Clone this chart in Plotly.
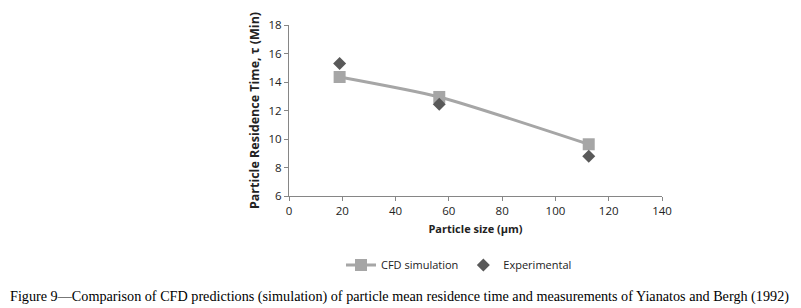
import plotly.graph_objects as go

particle_size = [19, 56.4, 112.5]
cfd_simulation = [14.35, 12.95, 9.63]
experimental = [15.29, 12.44, 8.79]

x_ticks = [0, 20, 40, 60, 80, 100, 120, 140]
y_ticks = [6, 8, 10, 12, 14, 16, 18]

font_fam = "Open Sans, Noto Sans, sans-serif"

W, H = 793, 300  # page body has an 8px margin
L, R, T, B = 281, 139, 17, 112
PH = H - T - B
PW = W - L - R

fig = go.Figure()
fig.add_trace(go.Scatter(
    x=particle_size, y=cfd_simulation, name="CFD simulation",
    mode="lines+markers",
    line=dict(color="#A6A6A6", width=3, shape="spline", smoothing=0.6),
    marker=dict(symbol="square", size=12, color="#A6A6A6"),
))
fig.add_trace(go.Scatter(
    x=particle_size, y=experimental, name="Experimental",
    mode="markers",
    marker=dict(symbol="diamond", size=10, color="#595959"),
))

axis_common = dict(
    showgrid=False, zeroline=False, showline=True, linecolor="#868686", linewidth=1,
    ticks="outside", tickcolor="#868686", ticklen=4, automargin=False,
    tickfont=dict(family=font_fam, size=11.5, color="#222"),
)
fig.update_xaxes(range=[0, 140], tickvals=x_ticks, **axis_common,
                 title=dict(text="<b>Particle size (μm)</b>", font=dict(family=font_fam, size=11, color="#222"), standoff=8))
fig.update_yaxes(range=[6, 18], tickvals=y_ticks, **axis_common,
                 title=dict(text="<b>Particle Residence Time, τ (Min)</b>", font=dict(family=font_fam, size=12.5, color="#222"), standoff=6))

fig.update_layout(
    width=W, height=H,
    margin=dict(l=L, r=R, t=T, b=B),
    plot_bgcolor="white", paper_bgcolor="white",
    showlegend=True,
    legend=dict(orientation="h", x=(459 - 8) / W, xanchor="center", xref="container",
                y=1 - 257 / H, yanchor="middle", yref="container",
                font=dict(family=font_fam, size=11, color="#222"), itemwidth=30),
    annotations=[dict(
        text="Figure 9—Comparison of CFD predictions (simulation) of particle mean residence time and measurements of Yianatos and Bergh (1992)",
        xref="paper", yref="paper", x=(0 - L) / PW, y=(H - B - 288) / PH,
        xanchor="left", yanchor="middle", showarrow=False,
        font=dict(family="Liberation Serif, serif", size=14.2, color="#000000"),
    )],
)

fig.write_html("out.html")
